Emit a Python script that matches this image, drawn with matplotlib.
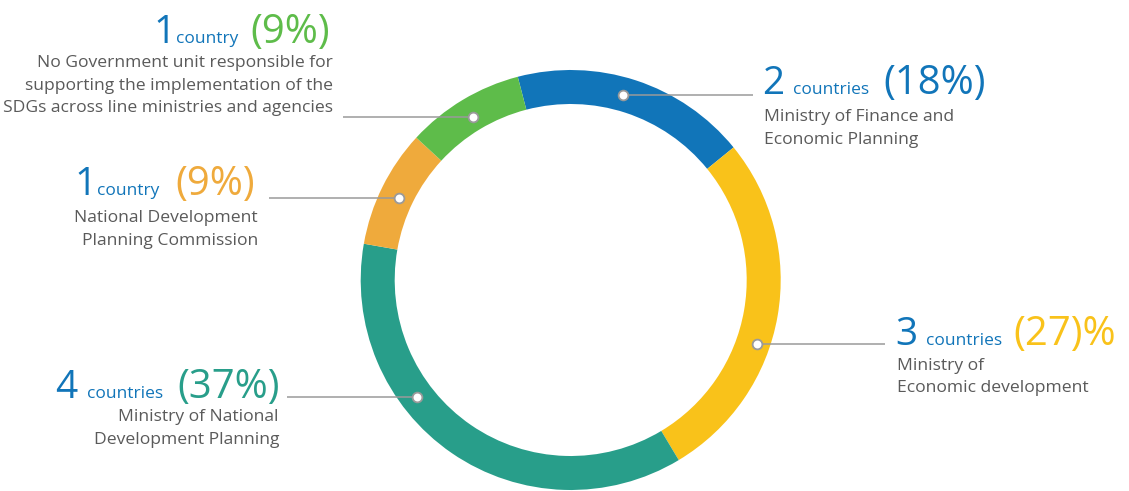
import matplotlib
matplotlib.use("Agg")
import matplotlib.pyplot as plt

# ---- data ----
categories = [
    "Ministry of Finance and\nEconomic Planning",
    "Ministry of\nEconomic development",
    "Ministry of National\nDevelopment Planning",
    "National Development\nPlanning Commission",
    "No Government unit responsible for\nsupporting the implementation of the\nSDGs across line ministries and agencies",
]
counts = [2, 3, 4, 1, 1]
count_units = ["countries", "countries", "countries", "country", "country"]
pct_labels = ["(18%)", "(27)%", "(37%)", "(9%)", "(9%)"]
colors = ["#1175B9", "#F9C21A", "#289E8A", "#EFAA3C", "#5EBC4A"]

BLUE = "#1175B9"
GRAY = "#5A5A5A"
LINE = "#9A9A9A"
FONT = "Open Sans"

W, H = 1129, 491
fig = plt.figure(figsize=(W / 100, H / 100), dpi=100)
ax = fig.add_axes([0, 0, 1, 1])

def Y(y):
    return H - y

cx, cy, R, ring = 570.7, 280, 210, 34
ax.pie(counts, colors=colors, startangle=104.6, counterclock=False,
       radius=R, center=(cx, Y(cy)),
       wedgeprops=dict(width=ring, edgecolor="none", linewidth=0))
ax.set_xlim(0, W)
ax.set_ylim(0, H)
ax.set_aspect("auto")
ax.axis("off")

layout = [
    dict(dot=(623.3, 95), lx=753, runs=(762, 793, 883), base=94, dx=764, ha="left", d0=121),
    dict(dot=(756.7, 344.3), lx=885, runs=(895, 926, 1013), base=345, dx=897, ha="left", d0=370),
    dict(dot=(416.7, 396.7), lx=287, runs=(55, 87, 177), base=398, dx=279, ha="right", d0=421),
    dict(dot=(399, 197.7), lx=269, runs=(74, 97, 175), base=195, dx=258, ha="right", d0=222),
    dict(dot=(473.3, 116.7), lx=343, runs=(153, 176, 250), base=43, dx=333, ha="right", d0=67),
]
line_gap = 22.5

for i, L in enumerate(layout):
    dxp, dyp = L["dot"]
    ax.plot([dxp, L["lx"]], [Y(dyp), Y(dyp)], color=LINE, lw=1.1,
            solid_capstyle="butt", zorder=3)
    ax.plot([dxp], [Y(dyp)], marker="o", ms=7, mfc="white", mec=LINE,
            mew=1.3, zorder=4)
    x0, x1, x2 = L["runs"]
    ax.text(x0, Y(L["base"]), str(counts[i]), color=BLUE, fontsize=28,
            family=FONT, ha="left", va="baseline")
    ax.text(x1, Y(L["base"]), count_units[i], color=BLUE, fontsize=12.5,
            family=FONT, ha="left", va="baseline")
    ax.text(x2, Y(L["base"]), pct_labels[i], color=colors[i], fontsize=28.8,
            family=FONT, ha="left", va="baseline")
    for k, line in enumerate(categories[i].split("\n")):
        ax.text(L["dx"], Y(L["d0"] + k * line_gap), line, color=GRAY,
                fontsize=12.6, family=FONT, ha=L["ha"], va="baseline")

fig.savefig("out.png", dpi=100)
